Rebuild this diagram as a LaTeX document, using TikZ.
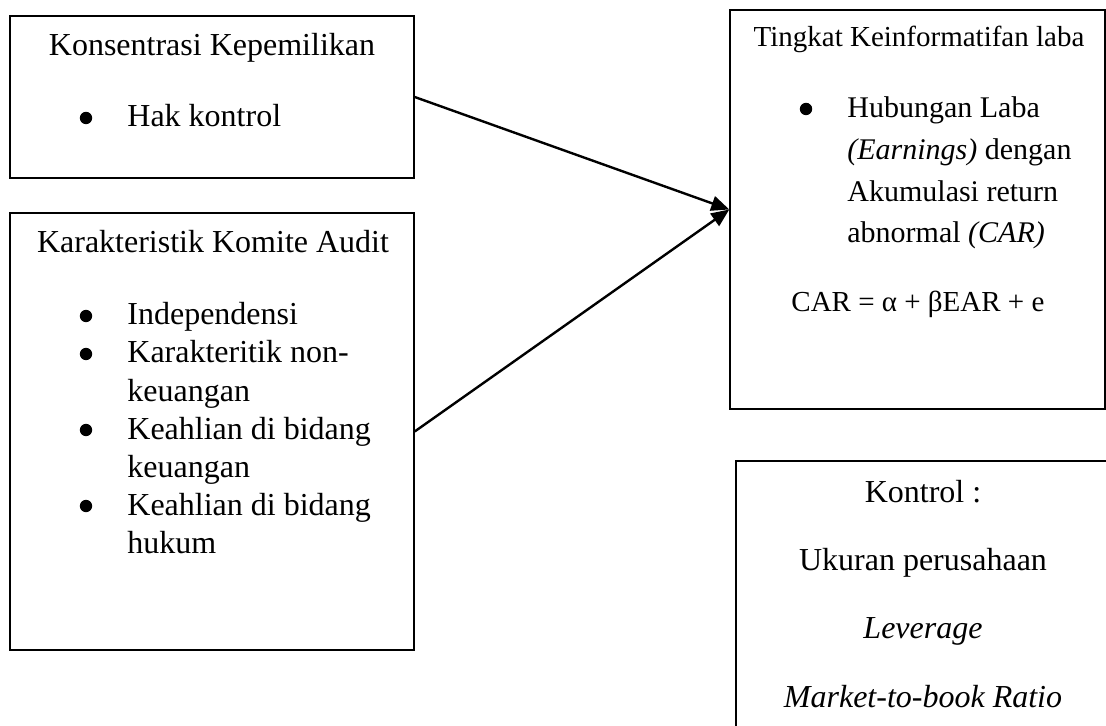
\documentclass[tikz,border=0pt]{standalone}
\usepackage{fontspec}
\setmainfont{Liberation Serif}
\usetikzlibrary{arrows.meta,fit}
\begin{document}
\begin{tikzpicture}[x=0.5pt,y=-0.5pt,
  box/.style={draw, line width=0.7pt, inner sep=0pt, rectangle},
  txt/.style={inner sep=0pt, font=\fontsize{16}{19}\selectfont},
  txtc/.style={txt, anchor=base},
  txtl/.style={txt, anchor=base west},
  smalltxt/.style={inner sep=0pt, font=\fontsize{14.5}{17}\selectfont},
  midtxt/.style={inner sep=0pt, font=\fontsize{15}{18}\selectfont, anchor=base west},
  bul/.style={circle, fill=black, inner sep=0pt, minimum size=6.2pt},
  arr/.style={line width=1.2pt, -{Triangle[length=9pt,width=7.5pt]}}
]
\useasboundingbox (0,0) rectangle (1106,726);

% Box 1
\node[box, fit={(10,16) (414,178)}] (b1) {};
\node[txtc] (t1h) at (212,56) {Konsentrasi Kepemilikan};
\node[bul] (t1u) at (86,118) {};
\node[txtl] (t1a) at (127,127) {Hak kontrol};

% Box 2
\node[box, fit={(10,213) (414,650)}] (b2) {};
\node[txtc] (t2h) at (213,253) {Karakteristik Komite Audit};
\node[bul] (t2u1) at (86,316) {};
\node[bul] (t2u2) at (86,354) {};
\node[bul] (t2u3) at (86,430) {};
\node[bul] (t2u4) at (86,506) {};
\node[txtl] (t2a) at (127,325) {Independensi};
\node[txtl] (t2b) at (127,363) {Karakteritik non-};
\node[txtl] (t2c) at (127,401) {keuangan};
\node[txtl] (t2d) at (127,439) {Keahlian di bidang};
\node[txtl] (t2e) at (127,477) {keuangan};
\node[txtl] (t2f) at (127,515) {Keahlian di bidang};
\node[txtl] (t2g) at (127,553) {hukum};

% Box 3
\node[box, fit={(730,10) (1105,409)}] (b3) {};
\node[smalltxt, anchor=base] (t3h) at (919,47) {Tingkat Keinformatifan laba};
\node[bul] (t3u) at (806,109) {};
\node[midtxt] (t3a) at (847,118) {Hubungan Laba};
\node[midtxt] (t3b) at (847,160) {\textit{(Earnings)} dengan};
\node[midtxt] (t3c) at (847,202) {Akumulasi return};
\node[midtxt] (t3d) at (847,243) {abnormal \textit{(CAR)}};
\node[smalltxt, anchor=base west] (t3f) at (791,312) {CAR = α + βEAR + e};

% Box 4 (cut off by the picture's edge)
\begin{scope}
\clip (0,0) rectangle (1106,726);
\node[box, fit={(736,461) (1118,745)}] (b4) {};
\end{scope}
\node[txtc] (t4a) at (923,502) {Kontrol :};
\node[txtc] (t4b) at (923,570) {Ukuran perusahaan};
\node[txtc] (t4c) at (923,638) {\textit{Leverage}};
\node[txtc] (t4d) at (923,707) {\textit{Market-to-book Ratio}};

% Arrows
\draw[arr] (b1.east) -- (b3.west);
\draw[arr] (b2.east) -- (b3.west);
\end{tikzpicture}
\end{document}
